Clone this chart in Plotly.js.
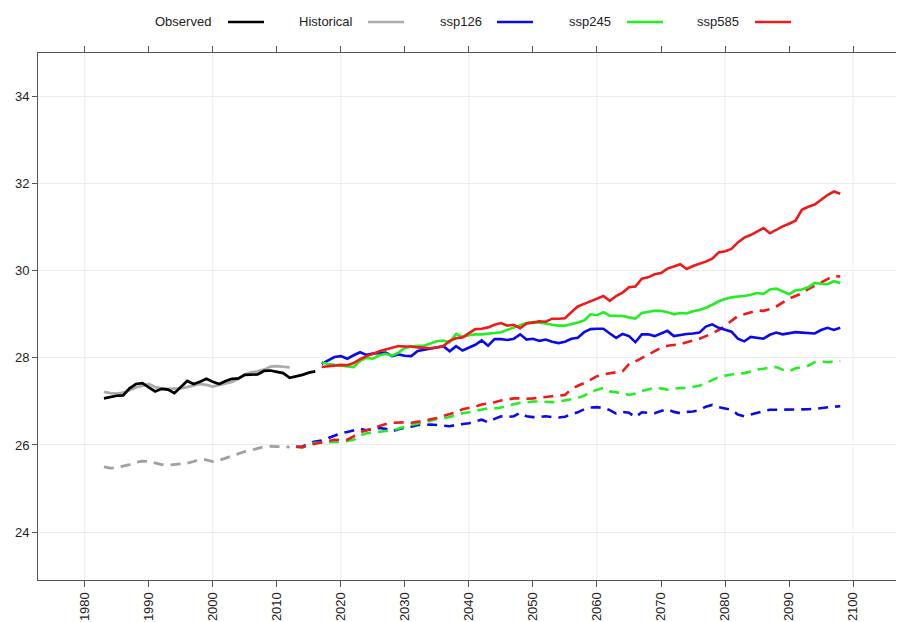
<!DOCTYPE html>
<html>
<head>
<meta charset="utf-8">
<script src="https://cdn.plot.ly/plotly-3.0.1.min.js"></script>
<style>html,body{margin:0;padding:0;background:#fff;}#chart{width:898px;height:622px;}</style>
</head>
<body>
<div id="chart"></div>
<script>
// ---------- data ----------
const obsYears = [1983,1984,1985,1986,1987,1988,1989,1990,1991,1992,1993,1994,1995,1996,1997,1998,1999,2000,2001,2002,2003,2004,2005,2006,2007,2008,2009,2010,2011,2012,2013,2014,2015,2016];
const observed = [27.07,27.10,27.13,27.14,27.30,27.40,27.42,27.32,27.23,27.29,27.27,27.19,27.33,27.47,27.40,27.45,27.52,27.45,27.40,27.47,27.52,27.53,27.61,27.62,27.62,27.70,27.71,27.68,27.65,27.54,27.57,27.61,27.66,27.69];

const histYears = [1983,1984,1985,1986,1987,1988,1989,1990,1991,1992,1993,1994,1995,1996,1997,1998,1999,2000,2001,2002,2003,2004,2005,2006,2007,2008,2009,2010,2011,2012];
const historicalSolid = [27.22,27.19,27.18,27.20,27.26,27.32,27.36,27.40,27.33,27.30,27.29,27.29,27.30,27.33,27.36,27.40,27.38,27.34,27.38,27.42,27.45,27.52,27.62,27.67,27.69,27.73,27.80,27.81,27.79,27.78];
const historicalDashed = [25.50,25.47,25.48,25.51,25.55,25.60,25.63,25.62,25.58,25.55,25.54,25.55,25.57,25.58,25.62,25.67,25.66,25.62,25.65,25.70,25.75,25.80,25.85,25.88,25.92,25.96,25.97,25.97,25.96,25.95];

// solid scenario series: 2017..2098
const solidYears = [];
for (let y = 2017; y <= 2098; y++) solidYears.push(y);
const ssp126Solid = [27.86,27.95,28.02,28.04,27.98,28.06,28.13,28.07,28.10,28.11,28.12,28.04,28.08,28.05,28.04,28.16,28.19,28.22,28.24,28.27,28.15,28.27,28.17,28.24,28.30,28.40,28.28,28.43,28.43,28.41,28.44,28.54,28.42,28.44,28.39,28.42,28.37,28.34,28.37,28.44,28.46,28.59,28.66,28.67,28.67,28.56,28.46,28.55,28.50,28.36,28.54,28.54,28.50,28.56,28.62,28.50,28.53,28.55,28.56,28.58,28.72,28.77,28.69,28.64,28.60,28.44,28.38,28.48,28.46,28.44,28.53,28.58,28.54,28.56,28.59,28.58,28.57,28.56,28.64,28.69,28.64,28.69];
const ssp245Solid = [27.90,27.86,27.84,27.82,27.80,27.79,27.93,28.00,27.98,28.06,28.09,28.05,28.12,28.23,28.26,28.28,28.28,28.33,28.38,28.40,28.36,28.55,28.48,28.52,28.54,28.54,28.55,28.57,28.59,28.64,28.69,28.74,28.80,28.82,28.81,28.79,28.76,28.74,28.74,28.77,28.81,28.86,29.00,28.98,29.05,28.97,28.96,28.96,28.93,28.90,29.03,29.05,29.08,29.08,29.05,29.00,29.03,29.02,29.07,29.10,29.15,29.22,29.30,29.35,29.39,29.41,29.42,29.45,29.49,29.47,29.57,29.59,29.52,29.46,29.55,29.57,29.62,29.72,29.70,29.69,29.76,29.72];
const ssp585Solid = [27.79,27.81,27.83,27.84,27.83,27.88,27.97,28.04,28.09,28.15,28.19,28.23,28.27,28.26,28.26,28.24,28.23,28.22,28.24,28.27,28.39,28.45,28.47,28.56,28.66,28.67,28.70,28.76,28.80,28.74,28.76,28.68,28.79,28.81,28.84,28.83,28.90,28.90,28.91,29.05,29.18,29.24,29.30,29.36,29.42,29.31,29.42,29.50,29.62,29.64,29.82,29.85,29.92,29.95,30.05,30.10,30.15,30.04,30.11,30.16,30.21,30.28,30.42,30.45,30.50,30.65,30.76,30.82,30.90,30.98,30.86,30.94,31.02,31.08,31.15,31.40,31.47,31.52,31.63,31.74,31.82,31.77];

// dashed scenario series: 2013..2098
const dashYears = [];
for (let y = 2013; y <= 2098; y++) dashYears.push(y);
const ssp126Dashed = [25.96,25.96,26.04,26.08,26.10,26.16,26.21,26.27,26.30,26.34,26.37,26.34,26.37,26.39,26.37,26.31,26.36,26.40,26.42,26.46,26.46,26.47,26.46,26.45,26.43,26.46,26.48,26.50,26.54,26.58,26.52,26.60,26.66,26.64,26.66,26.74,26.66,26.64,26.64,26.66,26.64,26.63,26.65,26.70,26.75,26.82,26.86,26.87,26.85,26.80,26.72,26.76,26.74,26.64,26.75,26.74,26.73,26.78,26.82,26.76,26.73,26.76,26.77,26.80,26.88,26.92,26.87,26.84,26.81,26.70,26.66,26.70,26.74,26.78,26.81,26.81,26.81,26.81,26.81,26.82,26.82,26.83,26.85,26.87,26.88,26.89];
const ssp245Dashed = [25.96,25.94,26.02,26.05,26.05,26.06,26.07,26.08,26.09,26.12,26.22,26.27,26.29,26.31,26.32,26.33,26.38,26.42,26.46,26.49,26.51,26.55,26.60,26.61,26.64,26.69,26.73,26.75,26.78,26.82,26.84,26.84,26.86,26.90,26.94,26.97,26.98,27.00,27.00,26.99,26.98,27.00,27.02,27.05,27.08,27.13,27.22,27.26,27.31,27.23,27.21,27.19,27.15,27.18,27.24,27.28,27.31,27.30,27.27,27.29,27.31,27.31,27.33,27.36,27.42,27.49,27.56,27.59,27.62,27.63,27.65,27.69,27.73,27.75,27.78,27.79,27.73,27.69,27.76,27.79,27.82,27.90,27.92,27.90,27.92,27.93];
const ssp585Dashed = [25.96,25.95,26.00,26.03,26.07,26.10,26.12,26.11,26.12,26.20,26.29,26.34,26.39,26.44,26.48,26.51,26.52,26.52,26.51,26.53,26.56,26.59,26.62,26.67,26.71,26.75,26.82,26.85,26.88,26.93,26.95,26.98,27.02,27.04,27.07,27.07,27.06,27.07,27.09,27.10,27.12,27.13,27.15,27.28,27.36,27.42,27.50,27.58,27.62,27.65,27.67,27.69,27.86,27.92,28.00,28.08,28.15,28.23,28.28,28.30,28.31,28.36,28.40,28.44,28.50,28.56,28.64,28.73,28.85,28.96,29.00,29.04,29.09,29.08,29.12,29.18,29.27,29.36,29.42,29.48,29.58,29.66,29.73,29.81,29.88,29.87];

const xTickVals = [1980,1990,2000,2010,2020,2030,2040,2050,2060,2070,2080,2090,2100];
const xGridVals = [1980,2000,2020,2040,2060,2080,2100];
const yTickVals = [24,26,28,30,32,34];

const legendNames = ['Observed','Historical','ssp126','ssp245','ssp585'];
const colors = {obs:'#000000', hist:'#ababab', histDash:'#a69e9c', b:'#0b0be8', g:'#22ee22', r:'#ee1a1a'};
const legendColors = [colors.obs, colors.hist, colors.b, colors.g, colors.r];

// ---------- traces ----------
const W = 2.6;
const DASH = '10px,7px';
function tr(x, y, color, dash, width) {
  return {x: x, y: y, type: 'scatter', mode: 'lines', showlegend: false, hoverinfo: 'skip',
          line: {color: color, width: width || W, dash: dash || 'solid'}};
}
const data = [
  tr(histYears, historicalDashed, colors.histDash, DASH, 2.8),
  tr(dashYears, ssp126Dashed, colors.b, DASH),
  tr(dashYears, ssp245Dashed, colors.g, DASH),
  tr(dashYears, ssp585Dashed, colors.r, DASH),
  tr(histYears, historicalSolid, colors.hist, 'solid', 2.8),
  tr(obsYears, observed, colors.obs, 'solid', 2.7),
  tr(solidYears, ssp126Solid, colors.b),
  tr(solidYears, ssp245Solid, colors.g),
  tr(solidYears, ssp585Solid, colors.r)
];

// ---------- layout helpers (pixel -> paper) ----------
const L = 38, R = 896, T = 53, B = 580;
const px2x = p => (p - L) / (R - L);
const py2y = p => (B - p) / (B - T);

const shapes = xGridVals.map(v => ({type:'line', xref:'x', yref:'paper', x0:v, x1:v, y0:0, y1:1,
  line:{color:'#ebebeb', width:1}, layer:'below'}));
const annotations = [];
const textRight = [213, 355, 484, 613, 741];
const lineStart = [228, 368, 497, 627, 755];
legendNames.forEach((n, i) => {
  annotations.push({xref:'paper', yref:'paper', x:px2x(textRight[i]), y:py2y(22), xanchor:'right', yanchor:'middle',
    text:n, showarrow:false, font:{family:'Liberation Sans, Arial, sans-serif', size:13, color:'#222'}});
  shapes.push({type:'line', xref:'paper', yref:'paper', x0:px2x(lineStart[i]), x1:px2x(lineStart[i]+36),
    y0:py2y(22), y1:py2y(22), line:{color:legendColors[i], width:2.6}});
});

const layout = {
  width: 898, height: 622,
  margin: {l: L, r: 898 - R, t: T, b: 622 - B, pad: 0},
  paper_bgcolor: '#ffffff', plot_bgcolor: '#ffffff',
  showlegend: false,
  font: {family: 'Liberation Sans, Arial, sans-serif', color: '#222'},
  xaxis: {range: [1972.7, 2106.7], tickmode: 'array', tickvals: xTickVals, ticktext: xTickVals.map(String),
    tickangle: -90, ticks: 'outside', ticklen: 6, tickcolor: '#555', tickwidth: 1,
    showline: true, linecolor: '#555', linewidth: 1, mirror: 'ticks',
    showgrid: false, zeroline: false, tickfont: {size: 13, color: '#222'}},
  yaxis: {range: [22.9, 35.0], tickmode: 'array', tickvals: yTickVals, ticktext: yTickVals.map(String),
    ticks: 'outside', ticklen: 5, tickcolor: '#555', tickwidth: 1,
    showline: true, linecolor: '#555', linewidth: 1,
    showgrid: true, gridcolor: '#ebebeb', gridwidth: 1, zeroline: false,
    tickfont: {size: 13, color: '#222'}},
  shapes: shapes,
  annotations: annotations
};

Plotly.newPlot('chart', data, layout, {staticPlot: true, displayModeBar: false});
</script>
</body>
</html>
